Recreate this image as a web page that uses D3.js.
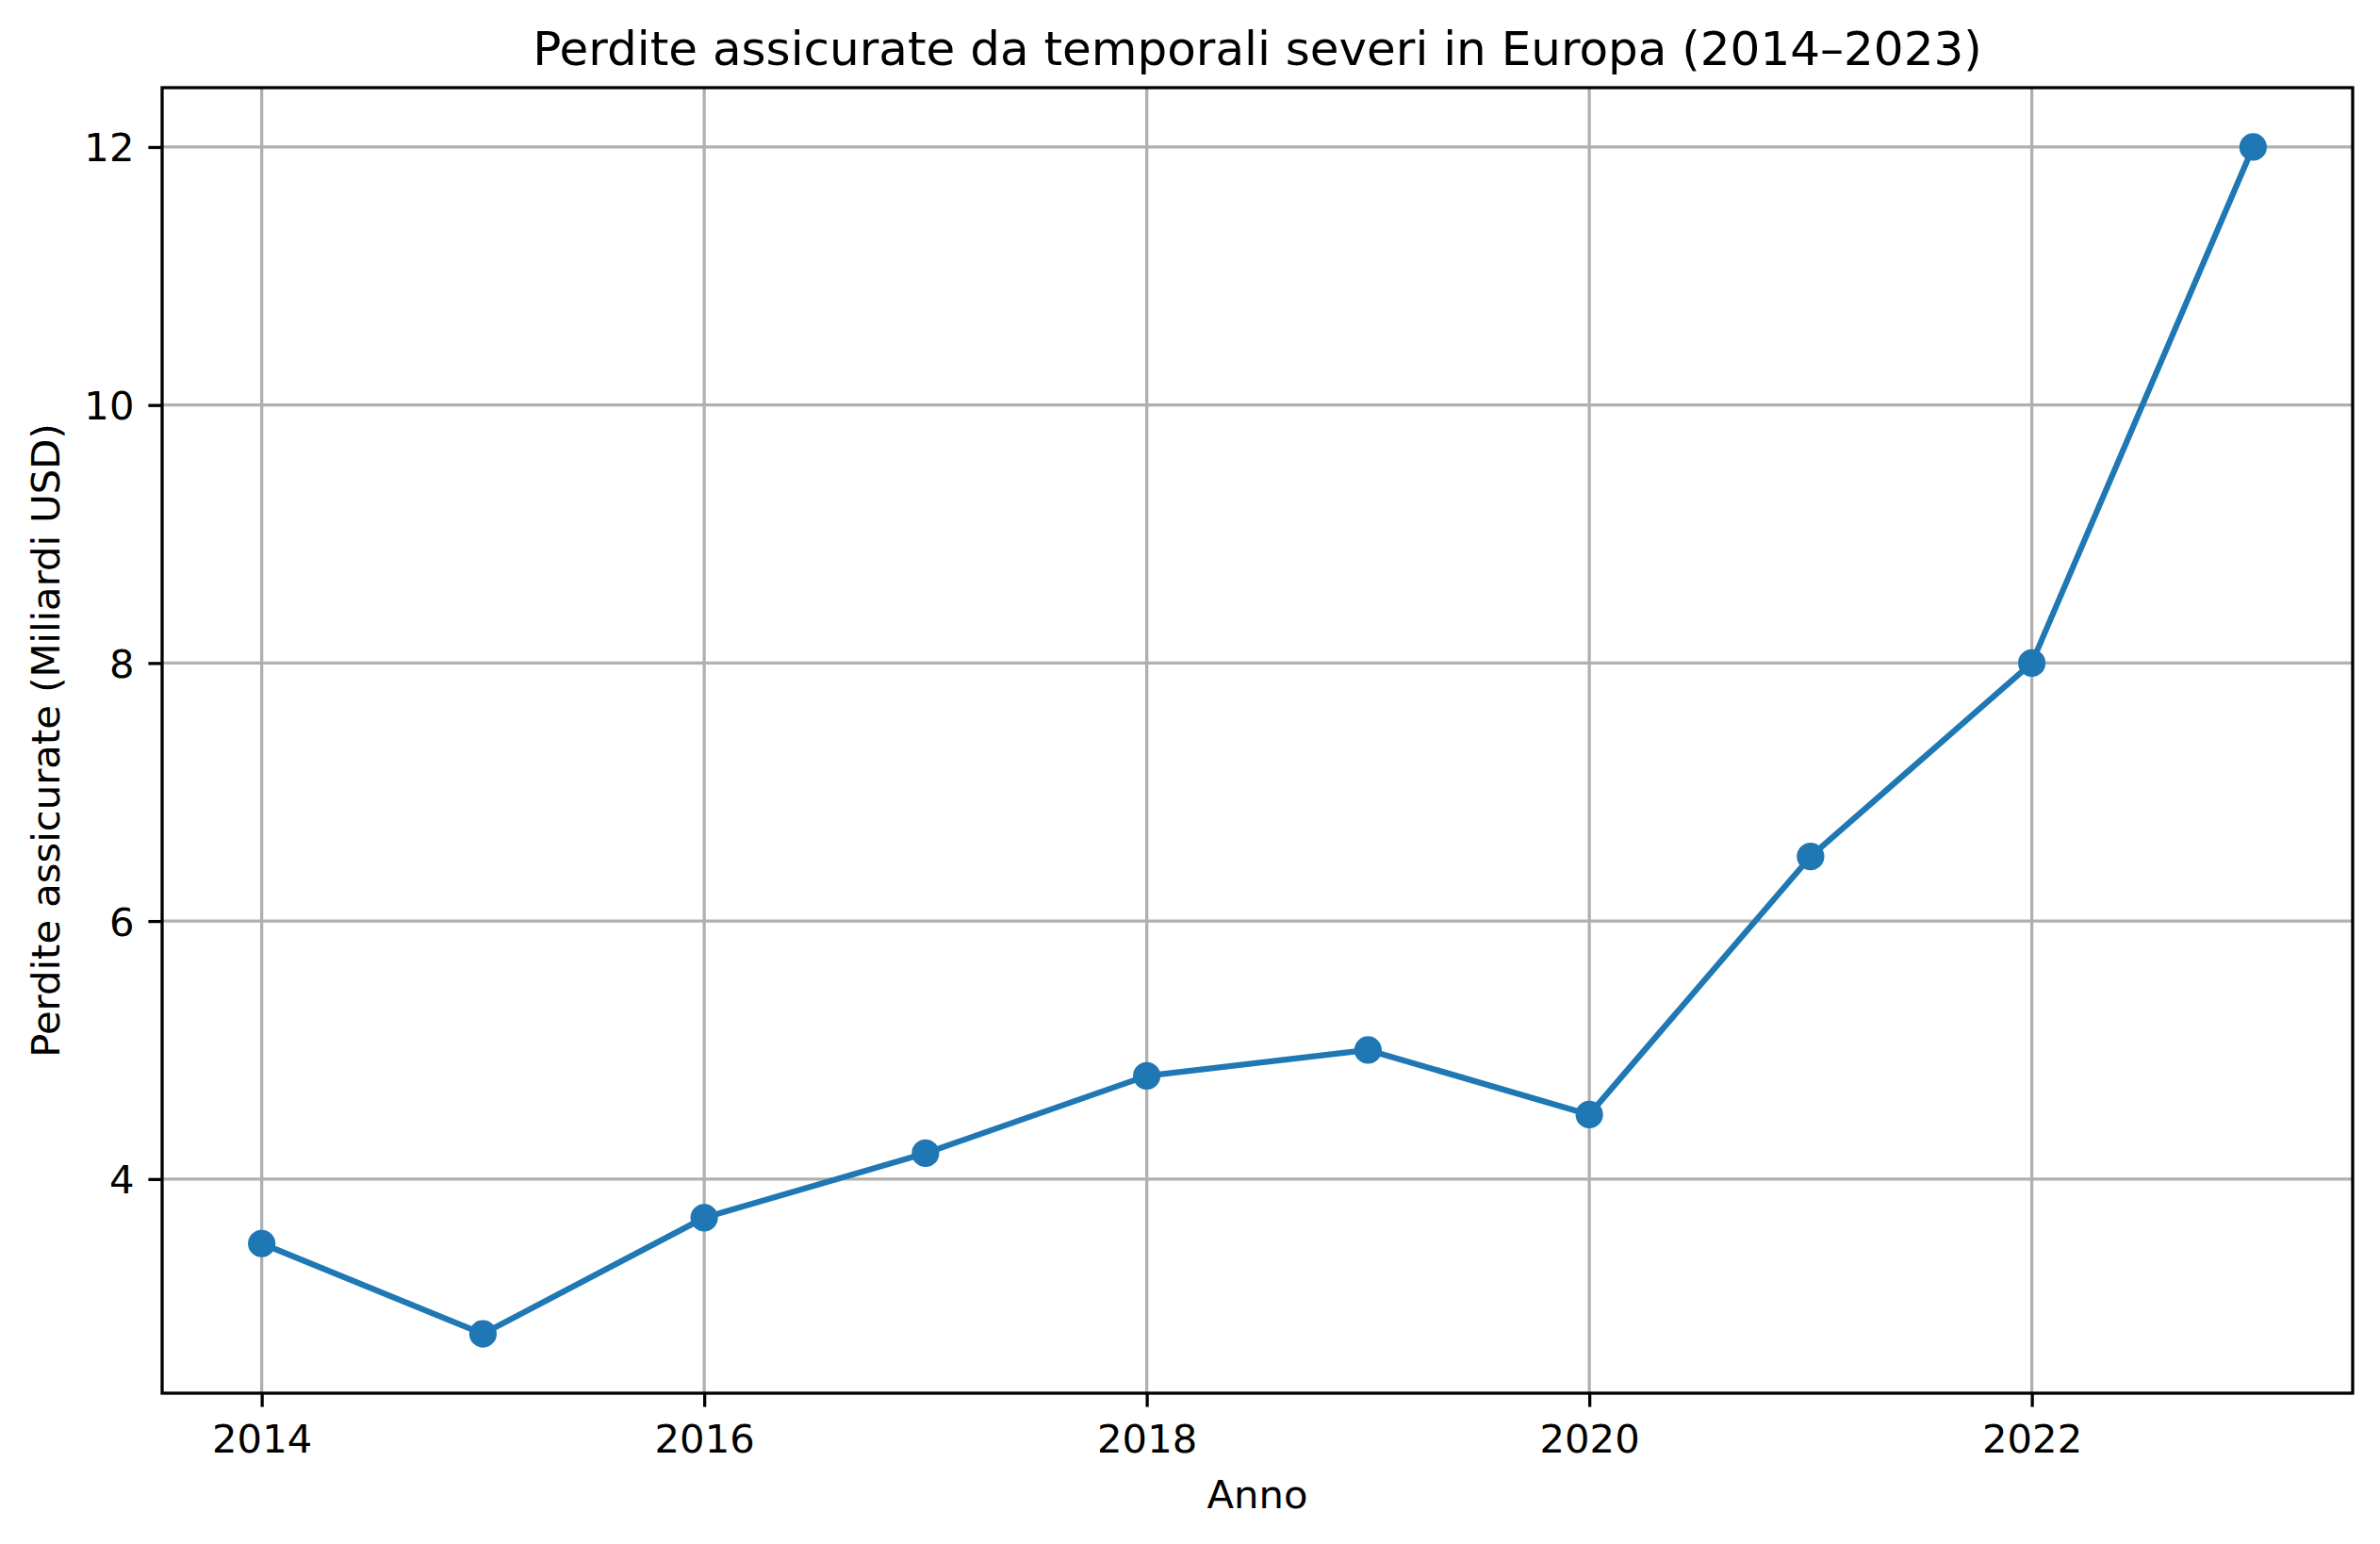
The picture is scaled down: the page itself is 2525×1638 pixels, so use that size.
<!DOCTYPE html>
<html lang="it">
<head>
  <meta charset="UTF-8">
  <title>Perdite assicurate</title>
<script src="https://d3js.org/d3.v7.min.js"></script>
<style>
  body { margin: 0; background: #fff; }
  text { font-family: "DejaVu Sans", sans-serif; fill: #000; }
</style>
</head>
<body>
<div id="chart"></div>

  <script>

const years = [2014, 2015, 2016, 2017, 2018, 2019, 2020, 2021, 2022, 2023];
const losses = [3.5, 2.8, 3.7, 4.2, 4.8, 5.0, 4.5, 6.5, 8.0, 12.0];
const xTicks = [2014, 2016, 2018, 2020, 2022];
const yTicks = [4, 6, 8, 10, 12];

const width = 2525;
const height = 1638;
const plot = { left: 172, right: 2496, top: 93, bottom: 1478 };

const svg = d3.select('#chart')
  .append('svg')
  .attr('width', width)
  .attr('height', height);

const x = d3.scaleLinear()
  .domain([2013.55, 2023.45])
  .range([plot.left, plot.right]);

const y = d3.scaleLinear()
  .domain([2.34, 12.46])
  .range([plot.bottom, plot.top]);

// grid
svg.append('g')
  .selectAll('line')
  .data(xTicks)
  .enter()
  .append('line')
  .attr('x1', d => x(d)).attr('x2', d => x(d))
  .attr('y1', plot.top).attr('y2', plot.bottom)
  .attr('stroke', '#b0b0b0')
  .attr('stroke-width', 3.3);

svg.append('g')
  .selectAll('line')
  .data(yTicks)
  .enter()
  .append('line')
  .attr('x1', plot.left).attr('x2', plot.right)
  .attr('y1', d => y(d)).attr('y2', d => y(d))
  .attr('stroke', '#b0b0b0')
  .attr('stroke-width', 3.3);

// axes
const xAxis = svg.append('g')
  .attr('transform', `translate(0, ${plot.bottom})`)
  .call(d3.axisBottom(x).tickValues(xTicks).tickFormat(d3.format('d'))
    .tickSize(14.6).tickPadding(19).tickSizeOuter(0));

const yAxis = svg.append('g')
  .attr('transform', `translate(${plot.left}, 0)`)
  .call(d3.axisLeft(y).tickValues(yTicks).tickFormat(d3.format('d'))
    .tickSize(14.6).tickPadding(15).tickSizeOuter(0));

[xAxis, yAxis].forEach(g => {
  g.select('.domain').remove();
  g.selectAll('.tick line').attr('stroke', '#000').attr('stroke-width', 3.3);
  g.selectAll('.tick text')
    .style('font-family', '"DejaVu Sans", sans-serif')
    .style('font-size', '41.7px')
    .attr('fill', '#000');
});
yAxis.selectAll('.tick text').attr('dy', '0.36em');

// data line
const line = d3.line()
  .x((d, i) => x(years[i]))
  .y(d => y(d));

svg.append('path')
  .datum(losses)
  .attr('d', line)
  .attr('fill', 'none')
  .attr('stroke', '#1f77b4')
  .attr('stroke-width', 6.25)
  .attr('stroke-linejoin', 'round')
  .attr('stroke-linecap', 'square');

svg.append('g')
  .selectAll('circle')
  .data(losses)
  .enter()
  .append('circle')
  .attr('cx', (d, i) => x(years[i]))
  .attr('cy', d => y(d))
  .attr('r', 12.5)
  .attr('fill', '#1f77b4')
  .attr('stroke', '#1f77b4')
  .attr('stroke-width', 4.2);

// frame
svg.append('rect')
  .attr('x', plot.left).attr('y', plot.top)
  .attr('width', plot.right - plot.left).attr('height', plot.bottom - plot.top)
  .attr('fill', 'none')
  .attr('stroke', '#000')
  .attr('stroke-width', 3.3);

// labels
svg.append('text')
  .attr('x', (plot.left + plot.right) / 2)
  .attr('y', 69)
  .attr('text-anchor', 'middle')
  .style('font-size', '50px')
  .text('Perdite assicurate da temporali severi in Europa (2014–2023)');

svg.append('text')
  .attr('x', (plot.left + plot.right) / 2)
  .attr('y', 1600)
  .attr('text-anchor', 'middle')
  .style('font-size', '41.7px')
  .text('Anno');

svg.append('text')
  .attr('transform', `translate(63, ${(plot.top + plot.bottom) / 2}) rotate(-90)`)
  .attr('text-anchor', 'middle')
  .style('font-size', '41.7px')
  .text('Perdite assicurate (Miliardi USD)');

  </script>
</body>
</html>
